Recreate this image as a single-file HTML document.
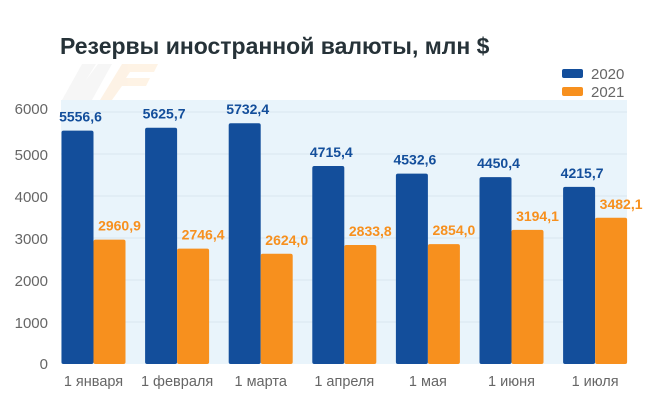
<!DOCTYPE html>
<html><head><meta charset="utf-8"><style>
body{margin:0;background:#fff;}
svg{display:block;font-family:"Liberation Sans",Arial,sans-serif;}
</style></head><body>
<svg width="662" height="409" viewBox="0 0 662 409">
<text x="60" y="54" font-size="23" font-weight="bold" fill="#263238">Резервы иностранной валюты, млн $</text>
<g opacity="0.5">
<polygon points="62,100 82,64 96,64 86,80 98,64 112,64 92,100" fill="#eee"/>
<polygon points="100,100 122,64 158,64 154,72 130,72 126,78 150,78 146,86 122,86 112,100" fill="#fde7cc"/>
</g>
<rect x="61" y="100" width="566" height="264" fill="#e9f4fb"/>
<g stroke="#d9e6ef" stroke-width="1">
<line x1="61" x2="627" y1="112" y2="112"/><line x1="61" x2="627" y1="154" y2="154"/>
<line x1="61" x2="627" y1="196" y2="196"/><line x1="61" x2="627" y1="238" y2="238"/>
<line x1="61" x2="627" y1="280" y2="280"/><line x1="61" x2="627" y1="322" y2="322"/>
</g>
<g font-size="15" fill="#666" text-anchor="end">
<text x="48" y="114">6000</text><text x="48" y="160">5000</text><text x="48" y="202">4000</text>
<text x="48" y="244">3000</text><text x="48" y="286">2000</text><text x="48" y="328">1000</text><text x="48" y="369">0</text>
</g>
<rect x="562" y="69" width="21" height="9" rx="2" fill="#134e9b"/>
<rect x="562" y="87" width="21" height="9" rx="2" fill="#f7901e"/>
<text x="591" y="79" font-size="15" fill="#666">2020</text>
<text x="591" y="97" font-size="15" fill="#666">2021</text>
<g fill="#134e9b">
<rect x="61.5" y="130.6" width="32" height="233.4" rx="2"/>
<rect x="145.1" y="127.7" width="32" height="236.3" rx="2"/>
<rect x="228.7" y="123.2" width="32" height="240.8" rx="2"/>
<rect x="312.3" y="166" width="32" height="198" rx="2"/>
<rect x="395.9" y="173.6" width="32" height="190.4" rx="2"/>
<rect x="479.5" y="177.1" width="32" height="186.9" rx="2"/>
<rect x="563.1" y="186.9" width="32" height="177.1" rx="2"/>
</g>
<g fill="#f7901e">
<rect x="93.5" y="239.6" width="32" height="124.4" rx="2"/>
<rect x="177.1" y="248.6" width="32" height="115.4" rx="2"/>
<rect x="260.7" y="253.8" width="32" height="110.2" rx="2"/>
<rect x="344.3" y="245" width="32" height="119" rx="2"/>
<rect x="427.9" y="244.1" width="32" height="119.9" rx="2"/>
<rect x="511.5" y="229.9" width="32" height="134.1" rx="2"/>
<rect x="595.1" y="217.8" width="32" height="146.2" rx="2"/>
</g>
<g font-size="14" font-weight="bold" fill="#134e9b" text-anchor="middle">
<text x="80.5" y="121.6">5556,6</text>
<text x="164.1" y="118.7">5625,7</text>
<text x="247.7" y="114.2">5732,4</text>
<text x="331.3" y="157">4715,4</text>
<text x="414.9" y="164.6">4532,6</text>
<text x="498.5" y="168.1">4450,4</text>
<text x="582.1" y="177.9">4215,7</text>
</g>
<g font-size="14" font-weight="bold" fill="#f7901e" text-anchor="middle">
<text x="119.5" y="230.6">2960,9</text>
<text x="203.1" y="239.6">2746,4</text>
<text x="286.7" y="244.8">2624,0</text>
<text x="370.3" y="236">2833,8</text>
<text x="453.9" y="235.1">2854,0</text>
<text x="537.5" y="220.9">3194,1</text>
<text x="621.1" y="208.8">3482,1</text>
</g>
<g font-size="14.5" fill="#666" text-anchor="middle">
<text x="93.5" y="386">1 января</text>
<text x="177.1" y="386">1 февраля</text>
<text x="260.7" y="386">1 марта</text>
<text x="344.3" y="386">1 апреля</text>
<text x="427.9" y="386">1 мая</text>
<text x="511.5" y="386">1 июня</text>
<text x="595.1" y="386">1 июля</text>
</g>
</svg>
</body></html>
